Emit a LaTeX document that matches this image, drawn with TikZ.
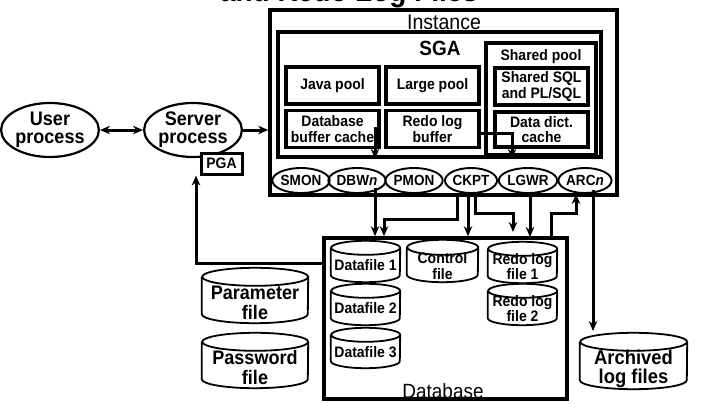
\documentclass[tikz,border=0pt]{standalone}
\usepackage{fontspec}
\setmainfont{Liberation Sans}[FakeStretch=0.92]
\usetikzlibrary{arrows.meta,shapes.geometric}

\tikzset{
  frame/.style  = {draw, line width=3.6pt, inner sep=0pt},
  pool/.style   = {draw, line width=3.2pt, minimum width=93pt, minimum height=37pt,
                   inner sep=0pt, align=center, font=\fontsize{15.2}{15.5}\selectfont\bfseries},
  proc/.style   = {draw, ellipse, line width=1.9pt, minimum width=51pt, minimum height=25pt,
                   inner sep=0pt, font=\fontsize{14.7}{15}\selectfont\bfseries},
  client/.style = {draw, ellipse, line width=2.2pt, minimum width=84pt, minimum height=54pt,
                   inner sep=0pt, align=center, font=\fontsize{19.6}{18}\selectfont\bfseries},
  % drum: width, height, end radius, lift of the outline above the text
  drum/.style n args = {4}{inner sep=0pt, align=center, minimum width=#1, minimum height=#2,
                   font=\fontsize{15.2}{15.5}\selectfont\bfseries,
                   append after command={\pgfextra{
                     \draw[line width=1.8pt]
                       ([yshift=#4-#3]\tikzlastnode.north west) -- ([yshift=#4+#3]\tikzlastnode.south west)
                       arc[start angle=180, end angle=360, x radius=0.5*#1, y radius=#3]
                       -- ([yshift=#4-#3]\tikzlastnode.north east)
                       arc[start angle=0, end angle=180, x radius=0.5*#1, y radius=#3]
                       arc[start angle=180, end angle=360, x radius=0.5*#1, y radius=#3];}}},
  flow/.style   = {line width=3pt, -{Stealth[length=10pt,width=8.5pt]}},
}

\begin{document}
\begin{tikzpicture}[x=1pt, y=-1pt]
        \useasboundingbox (0,0) rectangle (704,404);
        % title, cut by the page edge
        \node[anchor=base, font=\fontsize{30.4}{30}\selectfont\bfseries] (title) at (349,1.5) {and Redo Log Files};
        % instance and SGA
        \node[frame, minimum width=347pt, minimum height=185pt] (instance) at (443.5,102.5) {};
        \node[font=\fontsize{21.2}{21}\selectfont] (instlabel) at (444,22) {Instance};
        \node[frame, minimum width=323pt, minimum height=125pt] (sga) at (439.5,94.5) {};
        \node[font=\fontsize{20.6}{21}\selectfont\bfseries] (sgalabel) at (440,48) {SGA};
        \node[pool] (java)    at (332.5,85.5) {Java pool};
        \node[pool] (large)   at (432.5,85.5) {Large pool};
        \node[pool] (dbcache) at (332.5,129)  {Database\\buffer cache};
        \node[pool] (redobuf) at (432.5,129)  {Redo log\\buffer};
        \node[frame, minimum width=110pt, minimum height=112pt] (shared) at (541,99) {};
        \node[font=\fontsize{15.2}{15.5}\selectfont\bfseries] (sharedlabel) at (541,57) {Shared pool};
        \node[pool] (sql)  at (541.5,86.5) {Shared SQL\\and PL/SQL};
        \node[pool, minimum height=35pt] (dict) at (541.5,129.5) {Data dict.\\cache};
        % background processes
        \node[proc] (smon) at (301,180.5) {SMON};
        \node[proc] (dbwn) at (357,180.5) {DBW\textit{n}};
        \node[proc] (pmon) at (414,180.5) {PMON};
        \node[proc] (ckpt) at (471,180.5) {CKPT};
        \node[proc] (lgwr) at (528,180.5) {LGWR};
        \node[proc] (arcn) at (585,180.5) {ARC\textit{n}};
        % user side
        \node[client] (user)   at (50,130)  {User\\process};
        \node[client] (server) at (193,130) {Server\\process};
        \node[draw, line width=3pt, fill=white, minimum width=41pt, minimum height=21pt, inner sep=0pt,
              font=\fontsize{15.2}{15.5}\selectfont\bfseries] (pga) at (221.5,163.5) {PGA};
        % database files
        \node[frame, minimum width=243pt, minimum height=161pt] (database) at (445.5,318.5) {};
        \node[anchor=base, font=\fontsize{20.6}{21}\selectfont] (dblabel) at (443,398) {Database};
        \node[drum={69pt}{41pt}{7pt}{4pt}] (df1)   at (365.5,265.5) {Datafile 1};
        \node[drum={69pt}{41pt}{7pt}{4pt}] (df2)   at (365.5,308.5) {Datafile 2};
        \node[drum={69pt}{40pt}{7pt}{4pt}] (df3)   at (365.5,352)   {Datafile 3};
        \node[drum={71pt}{42pt}{7.5pt}{5pt}] (ctrl)  at (442.5,266) {Control\\file};
        \node[drum={69pt}{41pt}{7pt}{4pt}] (redo1) at (522.5,266.5) {Redo log\\file 1};
        \node[drum={69pt}{41pt}{7pt}{4pt}] (redo2) at (522.5,308.5) {Redo log\\file 2};
        \node[drum={106pt}{55pt}{9pt}{7pt}, font=\fontsize{19.6}{20}\selectfont\bfseries] (param)  at (255,302.5) {Parameter\\file};
        \node[drum={106pt}{55pt}{9pt}{7pt}, font=\fontsize{19.6}{20}\selectfont\bfseries] (passwd) at (255,367.5) {Password\\file};
        \node[drum={107pt}{56pt}{9pt}{8pt}, font=\fontsize{20}{19}\selectfont\bfseries] (arch) at (633.5,369) {Archived\\log files};
        % bends of the connectors
        \coordinate (dbw)  at (375,127);
        \coordinate (ck1)  at (457,219);
        \coordinate (ck2)  at (468,193);
        \coordinate (ck3)  at (475,213);
        \coordinate (ck3e) at (513,232);
        \coordinate (lgw)  at (530,237);
        \coordinate (rlb)  at (512,133);
        \coordinate (ar1)  at (551,213);
        \coordinate (ar2)  at (576,194);
        \coordinate (ar3)  at (593,190);
        \coordinate (ar4)  at (593,331);
        \coordinate (sv)   at (196,263);
        % connectors
        \draw[line width=3pt, {Stealth[length=10pt,width=8.5pt]}-{Stealth[length=10pt,width=8.5pt]}] (user) -- (server);
        \draw[flow] (server) -- (server -| instance.west);
        \draw[flow] (dbw) -- (dbw |- sga.south);
        \draw[flow] (dbw |- 0,188) -- (dbw |- database.north);
        \draw[flow] (redobuf.east |- rlb) -| (rlb |- sga.south);
        \draw[flow] (ckpt.south -| ck1) -- (ck1) -| ([xshift=18.5pt]df1.north |- database.north);
        \draw[flow] (ck2) -- (ck2 |- database.north);
        \draw[flow] (ckpt.south -| ck3) -- (ck3) -| (ck3e);
        \draw[flow] (lgwr.south -| lgw) -- (lgw);
        \draw[flow] (database.north -| ar1) -- (ar1) -| (ar2);
        \draw[flow] (ar3) -- (ar4);
        \draw[flow] (database.west |- sv) -- (sv) -- (sv |- pga.south);
      \end{tikzpicture}
\end{document}
